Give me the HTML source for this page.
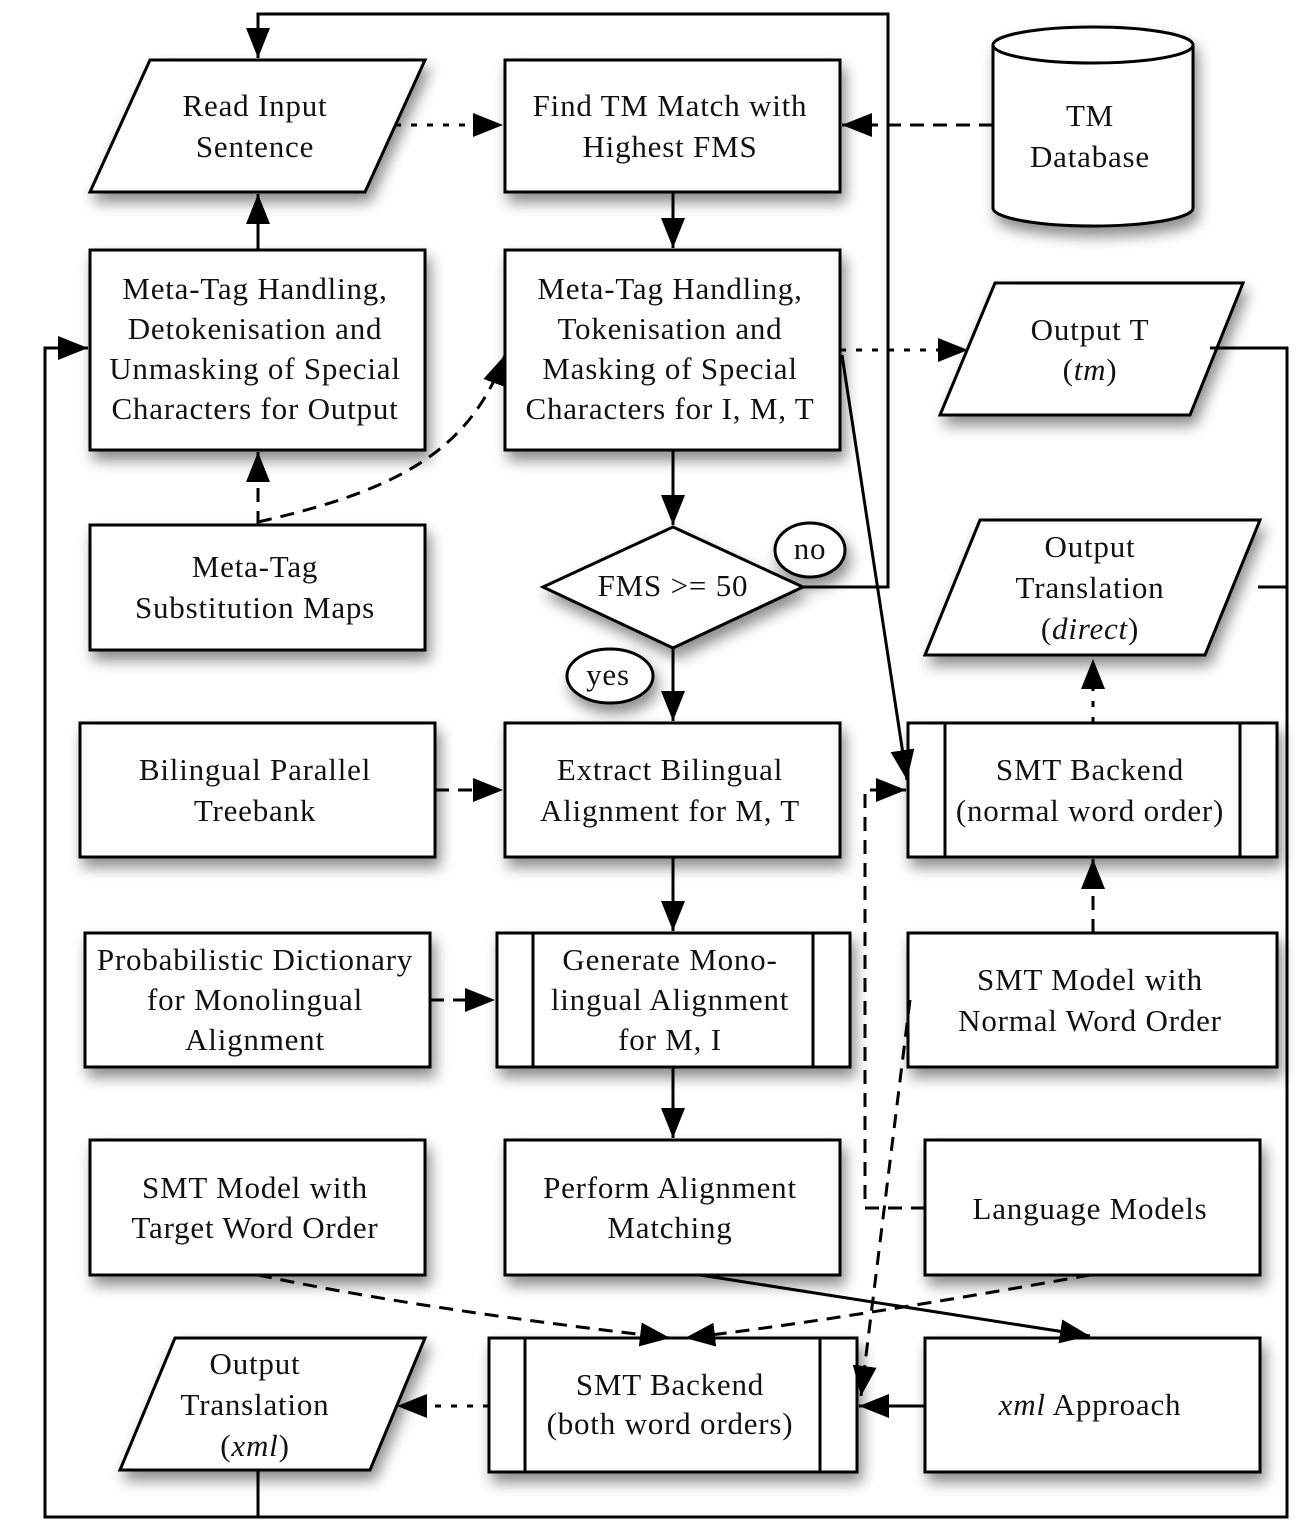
<!DOCTYPE html>
<html><head><style>
html,body{margin:0;padding:0;background:#fff;}
svg text{font-family:"Liberation Serif",serif;font-size:31px;letter-spacing:0.8px;fill:#111;text-anchor:middle;}
</style></head><body>
<svg width="1310" height="1526" viewBox="0 0 1310 1526" xmlns="http://www.w3.org/2000/svg">
<defs>
<filter id="sh" x="-10%" y="-10%" width="130%" height="140%">
<feDropShadow dx="4" dy="9" stdDeviation="7" flood-color="#000" flood-opacity="0.45"/>
</filter>
<marker id="a" viewBox="0 0 30 24" refX="30" refY="12" markerWidth="30" markerHeight="24" orient="auto" markerUnits="userSpaceOnUse">
<path d="M0,0 L30,12 L0,24 z" fill="#000"/>
</marker>
</defs>
<g fill="#fff" stroke="#000" stroke-width="3" filter="url(#sh)">
<polygon points="150,60 425,60 365,192 90,192"/>
<rect x="505" y="60" width="335" height="132"/>
<path d="M993,45 A100,18 0 0 1 1193,45 L1193,208 A100,18 0 0 1 993,208 Z"/>
<rect x="90" y="250" width="335" height="200"/>
<rect x="505" y="250" width="335" height="200"/>
<polygon points="995,283 1243,283 1190,415 940,415"/>
<rect x="90" y="525" width="335" height="125"/>
<polygon points="673,527 803,587 673,648 543,587"/>
<polygon points="980,520 1260,520 1205,655 925,655"/>
<rect x="80" y="723" width="355" height="134"/>
<rect x="505" y="723" width="335" height="134"/>
<rect x="908" y="723" width="369" height="134"/>
<rect x="85" y="933" width="345" height="134"/>
<rect x="497" y="933" width="353" height="134"/>
<rect x="908" y="933" width="369" height="134"/>
<rect x="90" y="1140" width="335" height="135"/>
<rect x="505" y="1140" width="335" height="135"/>
<rect x="925" y="1140" width="335" height="135"/>
<polygon points="175,1338 425,1338 370,1470 120,1470"/>
<rect x="489" y="1338" width="368" height="134"/>
<rect x="925" y="1338" width="335" height="134"/>
<ellipse cx="810" cy="550" rx="35" ry="27"/>
<ellipse cx="610" cy="676" rx="43" ry="27"/>
</g>
<g fill="none" stroke="#000" stroke-width="3">
<path d="M993,45 A100,18 0 0 0 1193,45"/>
<line x1="945" y1="723" x2="945" y2="857"/><line x1="1240" y1="723" x2="1240" y2="857"/>
<line x1="533" y1="933" x2="533" y2="1067"/><line x1="813" y1="933" x2="813" y2="1067"/>
<line x1="525" y1="1338" x2="525" y2="1472"/><line x1="820" y1="1338" x2="820" y2="1472"/>
<path d="M803,587 L888,587 L888,14 L258,14 L258,58" marker-end="url(#a)"/>
<path d="M1210,348 L1287,348 L1287,1517 L45,1517 L45,348 L88,348" marker-end="url(#a)"/>
<path d="M1258,587 L1287,587"/>
<path d="M258,1470 L258,1517"/>
<path d="M673,192 L673,248" marker-end="url(#a)"/>
<path d="M258,250 L258,194" marker-end="url(#a)"/>
<path d="M673,450 L673,525" marker-end="url(#a)"/>
<path d="M842,355 L907,780" marker-end="url(#a)"/>
<path d="M673,648 L673,721" marker-end="url(#a)"/>
<path d="M673,857 L673,931" marker-end="url(#a)"/>
<path d="M673,1067 L673,1138" marker-end="url(#a)"/>
<path d="M700,1275 L1090,1336" marker-end="url(#a)"/>
<path d="M925,1406 L859,1406" marker-end="url(#a)"/>
<g stroke-dasharray="6,10">
<path d="M395,125 L503,125" marker-end="url(#a)"/>
<path d="M840,350 L968,350" marker-end="url(#a)"/>
<path d="M1093,723 L1093,659" marker-end="url(#a)"/>
<path d="M489,1406 L397,1406" marker-end="url(#a)"/>
</g>
<g stroke-dasharray="14,9">
<path d="M993,125 L842,125" marker-end="url(#a)"/>
<path d="M258,525 L258,452" marker-end="url(#a)"/>
<path d="M258,522 C400,490 470,450 505,355" marker-end="url(#a)"/>
<path d="M435,790 L503,790" marker-end="url(#a)"/>
<path d="M430,1000 L495,1000" marker-end="url(#a)"/>
<path d="M1093,933 L1093,859" marker-end="url(#a)"/>
<path d="M925,1208 L865,1208 L865,790 L906,790" marker-end="url(#a)"/>
<path d="M910,1000 L861,1396" marker-end="url(#a)"/>
<path d="M258,1275 C400,1305 560,1325 670,1338" marker-end="url(#a)"/>
<path d="M1090,1275 C950,1300 800,1325 685,1338" marker-end="url(#a)"/>
</g>
</g>
<text x="255" y="116">Read Input</text><text x="255" y="157">Sentence</text>
<text x="670" y="116">Find TM Match with</text><text x="670" y="157">Highest FMS</text>
<text x="1090" y="126">TM</text><text x="1090" y="167">Database</text>
<text x="255" y="299">Meta-Tag Handling,</text><text x="255" y="339">Detokenisation and</text><text x="255" y="379">Unmasking of Special</text><text x="255" y="419">Characters for Output</text>
<text x="670" y="299">Meta-Tag Handling,</text><text x="670" y="339">Tokenisation and</text><text x="670" y="379">Masking of Special</text><text x="670" y="419">Characters for I, M, T</text>
<text x="1090" y="340">Output T</text><text x="1090" y="380">(<tspan font-style="italic">tm</tspan>)</text>
<text x="255" y="577">Meta-Tag</text><text x="255" y="618">Substitution Maps</text>
<text x="673" y="596">FMS &gt;= 50</text>
<text x="810" y="559">no</text><text x="608" y="685">yes</text>
<text x="1090" y="557">Output</text><text x="1090" y="598">Translation</text><text x="1090" y="639">(<tspan font-style="italic">direct</tspan>)</text>
<text x="255" y="780">Bilingual Parallel</text><text x="255" y="821">Treebank</text>
<text x="670" y="780">Extract Bilingual</text><text x="670" y="821">Alignment for M, T</text>
<text x="1090" y="780">SMT Backend</text><text x="1090" y="821">(normal word order)</text>
<text x="255" y="970">Probabilistic Dictionary</text><text x="255" y="1010">for Monolingual</text><text x="255" y="1050">Alignment</text>
<text x="670" y="970">Generate Mono-</text><text x="670" y="1010">lingual Alignment</text><text x="670" y="1050">for M, I</text>
<text x="1090" y="990">SMT Model with</text><text x="1090" y="1031">Normal Word Order</text>
<text x="255" y="1198">SMT Model with</text><text x="255" y="1238">Target Word Order</text>
<text x="670" y="1198">Perform Alignment</text><text x="670" y="1238">Matching</text>
<text x="1090" y="1219">Language Models</text>
<text x="255" y="1374">Output</text><text x="255" y="1415">Translation</text><text x="255" y="1456">(<tspan font-style="italic">xml</tspan>)</text>
<text x="670" y="1395">SMT Backend</text><text x="670" y="1434">(both word orders)</text>
<text x="1090" y="1415"><tspan font-style="italic">xml</tspan> Approach</text>
</svg>
</body></html>
